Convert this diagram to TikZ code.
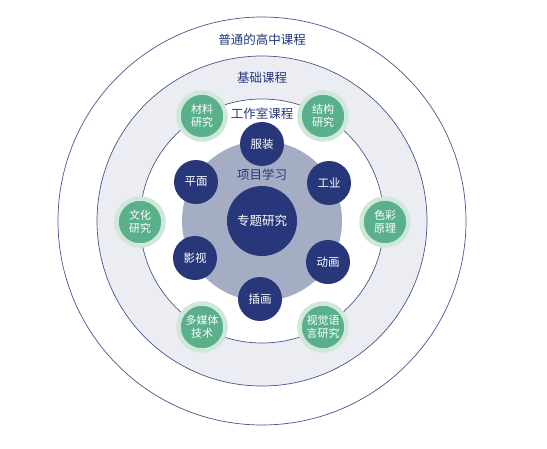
\documentclass[tikz,border=0pt]{standalone}
\usepackage{fontspec}
\setmainfont{Noto Sans CJK SC}
\usepackage{xcolor}
\usetikzlibrary{positioning}
\definecolor{navy}{HTML}{27377A}
\definecolor{ringline}{HTML}{4A5590}
\definecolor{band}{HTML}{ECEDF3}
\definecolor{projgray}{HTML}{A4ADC3}
\definecolor{resgreen}{HTML}{5BB08C}
\definecolor{respale}{HTML}{CFE8DA}
\tikzset{
  ring/.style={circle, draw=ringline, line width=0.7pt, inner sep=0pt},
  lbl/.style={text=navy, font=\fontsize{12.5}{14}\selectfont},
  topic/.style={circle, fill=navy, text=white, minimum size=44pt, inner sep=0pt, font=\fontsize{11.5}{13}\selectfont},
  res/.style={circle, fill=resgreen, draw=respale, line width=4.5pt, text=white, minimum size=47pt, inner sep=0pt, align=center, font=\fontsize{11}{13}\selectfont},
}
\begin{document}
\begin{tikzpicture}[x=1pt, y=-1pt]
\useasboundingbox[fill=white] (0,0) rectangle (547,448);
\coordinate (c) at (262,221);
% rings
\node[ring, minimum size=408pt] (outer) at (c) {};
\node[ring, fill=band, minimum size=330pt] (basic) at (c) {};
\node[ring, fill=white, minimum size=244pt] (studio) at (c) {};
\node[circle, fill=projgray, minimum size=160pt, inner sep=0pt] (proj) at (c) {};
\node[topic, minimum size=70pt, font=\fontsize{12.5}{14}\selectfont] (core) at (c) {专题研究};
% ring labels
\node[lbl] (outerlbl) at (262,40) {普通的高中课程};
\node[lbl] (basiclbl) at (262,78) {基础课程};
\node[lbl] (studiolbl) at (262,114) {工作室课程};
\node[lbl] (projlbl) at (262,175) {项目学习};
% project topics
\node[topic] (fz) at (262,144) {服装};
\node[topic] (gy) at (329,183) {工业};
\node[topic] (dh) at (328,262) {动画};
\node[topic] (ch) at (260,299) {插画};
\node[topic] (ys) at (195,258) {影视};
\node[topic] (pm) at (196,182) {平面};
% basic research
\node[res] (cl) at (202,116) {材料\\研究};
\node[res] (jg) at (323,116) {结构\\研究};
\node[res] (sc) at (385,222) {色彩\\原理};
\node[res] (sj) at (323,327) {视觉语\\言研究};
\node[res] (dm) at (202,327) {多媒体\\技术};
\node[res] (wh) at (140,222) {文化\\研究};
\end{tikzpicture}
\end{document}
